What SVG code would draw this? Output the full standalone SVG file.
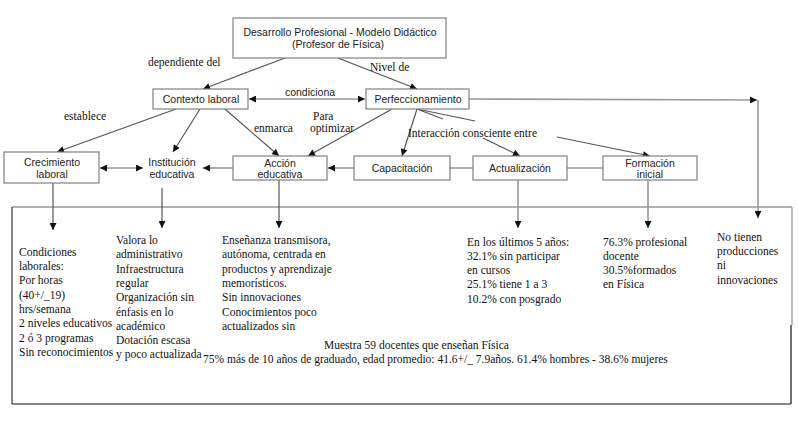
<svg xmlns="http://www.w3.org/2000/svg" width="798" height="438" viewBox="0 0 798 438">
<defs>
<marker id="ah" viewBox="0 0 10 10" refX="10" refY="5" markerWidth="8" markerHeight="7" markerUnits="userSpaceOnUse" orient="auto-start-reverse"><path d="M0,0 L10,5 L0,10 z" fill="#111"/></marker>
<style>
.box{fill:#fff;stroke:#808080;stroke-width:1.2}
.sans{font-family:"Liberation Sans",Arial,sans-serif;font-size:10.5px;fill:#222;text-anchor:middle}
.ser{font-family:"Liberation Serif","Times New Roman",serif;font-size:11.5px;fill:#111}
.c{fill:none;stroke:#555;stroke-width:1.2}
.g{fill:none;stroke:#999;stroke-width:1.6}
.a{marker-end:url(#ah)}
.d{marker-start:url(#ah);marker-end:url(#ah)}
</style>
</defs>
<rect width="798" height="438" fill="#fff"/>

<g id="panel">
<line x1="12" y1="207" x2="792" y2="207" stroke="#999" stroke-width="1.3"/>
<line x1="792" y1="207" x2="792" y2="325" stroke="#999" stroke-width="1.3"/>
<line x1="791" y1="325" x2="791" y2="404" stroke="#111" stroke-width="1.2"/>
<line x1="12" y1="404" x2="791" y2="404" stroke="#111" stroke-width="1.2"/>
<line x1="12" y1="207" x2="12" y2="404" stroke="#333" stroke-width="1.2"/>
</g>

<g id="connectors">
<line class="c a" x1="285" y1="58" x2="203" y2="89"/>
<line class="c a" x1="338" y1="58" x2="417" y2="89"/>
<line class="g d" x1="249" y1="99" x2="365" y2="99"/>
<line class="g a" x1="469" y1="99" x2="757" y2="100"/>
<line class="g a" x1="758" y1="100" x2="758" y2="218"/>
<line class="c a" x1="176" y1="109" x2="57" y2="152"/>
<line class="c a" x1="200" y1="109" x2="173" y2="152"/>
<line class="c a" x1="225" y1="109" x2="279" y2="156"/>
<line class="c a" x1="392" y1="109" x2="308" y2="156"/>
<line class="c a" x1="417" y1="109" x2="402" y2="156"/>
<line class="c" x1="417" y1="109" x2="443" y2="119"/>
<line class="c" x1="417" y1="109" x2="475" y2="121"/>
<line class="c a" x1="483" y1="138" x2="520" y2="156"/>
<line class="c a" x1="557" y1="137" x2="650" y2="156"/>
<line class="g d" x1="100" y1="168" x2="143" y2="168"/>
<line class="g a" x1="233" y1="168" x2="203" y2="168"/>
<line class="g a" x1="354" y1="168" x2="328" y2="168"/>
<line class="g" x1="450" y1="168" x2="473" y2="168"/>
<line class="g" x1="567" y1="168" x2="603" y2="168"/>
<line class="c a" x1="53" y1="183" x2="53" y2="230"/>
<line class="c a" x1="162" y1="188" x2="162" y2="228"/>
<line class="c a" x1="279" y1="180" x2="279" y2="228"/>
<line class="g a" x1="518" y1="180" x2="518" y2="228"/>
<line class="g a" x1="648" y1="180" x2="648" y2="228"/>
</g>

<g id="labels">
<text class="ser" x="148" y="66">dependiente del</text>
<text class="ser" x="370" y="70.5">Nivel de</text>
<text class="sans" x="310" y="95.5">condiciona</text>
<text class="ser" x="64" y="120">establece</text>
<text class="ser" x="254" y="132">enmarca</text>
<text class="ser" x="313" y="120">Para</text>
<text class="ser" x="310" y="132">optimizar</text>
<text class="ser" x="408" y="136.5">Interacción consciente entre</text>
</g>

<g id="n-top">
<rect class="box" x="233" y="18" width="213" height="40"/>
<text class="sans" x="340" y="36">Desarrollo Profesional - Modelo Didáctico</text>
<text class="sans" x="338" y="48">(Profesor de Física)</text>
</g>
<g id="n-contexto">
<rect class="box" x="153" y="89" width="95" height="20"/>
<text class="sans" x="201" y="103">Contexto laboral</text>
</g>
<g id="n-perfeccionamiento">
<rect class="box" x="366" y="89" width="103" height="20"/>
<text class="sans" x="418" y="103">Perfeccionamiento</text>
</g>
<g id="n-crecimiento">
<rect class="box" x="4" y="152" width="95" height="31"/>
<text class="sans" x="52" y="166">Crecimiento</text>
<text class="sans" x="52" y="177.5">laboral</text>
</g>
<g id="n-institucion">
<text class="sans" x="172" y="166">Institución</text>
<text class="sans" x="172" y="177.5">educativa</text>
</g>
<g id="n-accion">
<rect class="box" x="233" y="156" width="94" height="24"/>
<text class="sans" x="280" y="166.5">Acción</text>
<text class="sans" x="280" y="178">educativa</text>
</g>
<g id="n-capacitacion">
<rect class="box" x="354" y="156" width="96" height="24"/>
<text class="sans" x="402" y="171.5">Capacitación</text>
</g>
<g id="n-actualizacion">
<rect class="box" x="473" y="156" width="94" height="24"/>
<text class="sans" x="520" y="171.5">Actualización</text>
</g>
<g id="n-formacion">
<rect class="box" x="603" y="156" width="94" height="24"/>
<text class="sans" x="650" y="166.5">Formación</text>
<text class="sans" x="650" y="178">inicial</text>
</g>

<g id="t-condiciones" class="ser">
<text x="19" y="255.7">Condiciones</text>
<text x="19" y="270">laborales:</text>
<text x="19" y="284.3">Por horas</text>
<text x="19" y="298.6">(40+/_19)</text>
<text x="19" y="312.9">hrs/semana</text>
<text x="19" y="327.2">2 niveles educativos</text>
<text x="19" y="341.5">2 ó 3 programas</text>
<text x="19" y="355.8">Sin reconocimientos</text>
</g>
<g id="t-valora" class="ser">
<text x="116" y="244">Valora lo</text>
<text x="116" y="258.3">administrativo</text>
<text x="116" y="272.6">Infraestructura</text>
<text x="116" y="286.9">regular</text>
<text x="116" y="301.2">Organización sin</text>
<text x="116" y="315.5">énfasis en lo</text>
<text x="116" y="329.8">académico</text>
<text x="116" y="344.1">Dotación escasa</text>
<text x="116" y="358.4">y poco actualizada</text>
</g>
<g id="t-ensenanza" class="ser">
<text x="222" y="244">Enseñanza transmisora,</text>
<text x="222" y="258.3">autónoma, centrada en</text>
<text x="222" y="272.6">productos y aprendizaje</text>
<text x="222" y="286.9">memorísticos.</text>
<text x="222" y="301.2">Sin innovaciones</text>
<text x="222" y="315.5">Conocimientos poco</text>
<text x="222" y="329.8">actualizados sin</text>
</g>
<g id="t-muestra" class="ser">
<text x="324" y="349">Muestra 59 docentes que enseñan Física</text>
<text x="203" y="363">75% más de 10 años de graduado, edad promedio: 41.6+/_ 7.9años. 61.4% hombres - 38.6% mujeres</text>
</g>
<g id="t-ultimos" class="ser">
<text x="467" y="245.7">En los últimos 5 años:</text>
<text x="467" y="259.9">32.1% sin participar</text>
<text x="467" y="274.1">en cursos</text>
<text x="467" y="288.3">25.1% tiene 1 a 3</text>
<text x="467" y="302.5">10.2% con posgrado</text>
</g>
<g id="t-profesional" class="ser">
<text x="603" y="245.7">76.3% profesional</text>
<text x="603" y="259.9">docente</text>
<text x="603" y="274.1">30.5%formados</text>
<text x="603" y="288.3">en Física</text>
</g>
<g id="t-notienen" class="ser">
<text x="717" y="241">No tienen</text>
<text x="717" y="255.2">producciones</text>
<text x="717" y="269.4">ni</text>
<text x="717" y="283.6">innovaciones</text>
</g>
</svg>
